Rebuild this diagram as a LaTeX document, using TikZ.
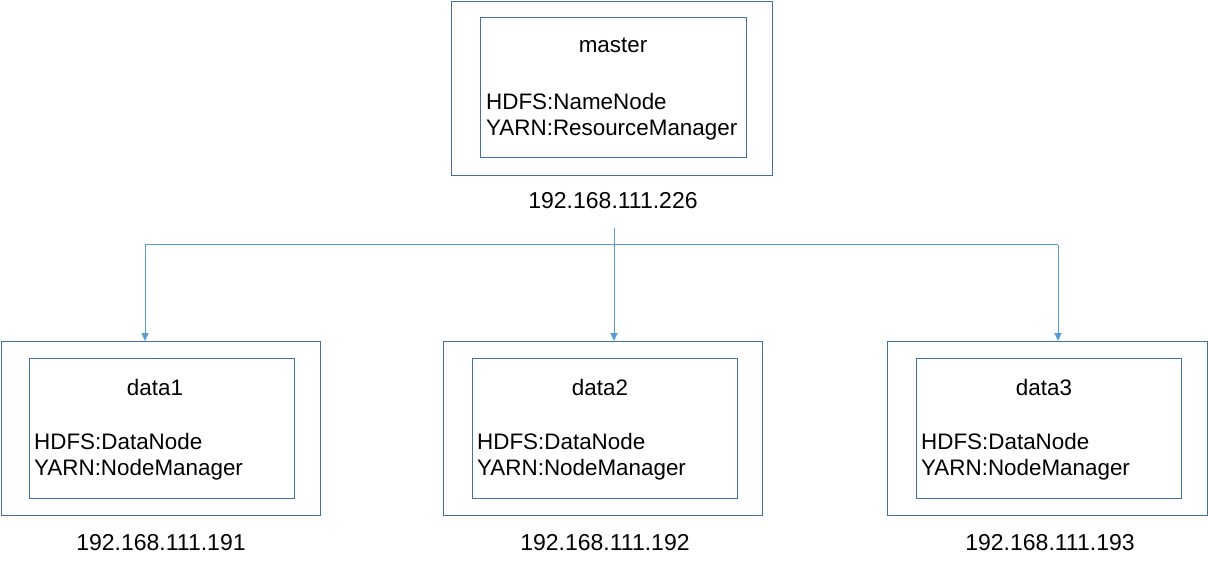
\documentclass[tikz,border=0pt]{standalone}
\usepackage{fontspec}
\setmainfont{Liberation Sans}
\usetikzlibrary{arrows.meta}
\definecolor{boxc}{RGB}{65,113,156}
\definecolor{linec}{RGB}{91,155,213}
\begin{document}
\begin{tikzpicture}[x=1pt,y=-1pt,
  outerbox/.style={draw=boxc,line width=1.2pt,anchor=north west,inner sep=0pt},
  innerbox/.style={draw=boxc,line width=1pt,anchor=north west,inner sep=0pt},
  txt/.style={inner sep=0pt,font=\fontsize{22.4}{26}\selectfont},
  iptxt/.style={inner sep=0pt,font=\fontsize{23}{27}\selectfont},
  ltxt/.style={txt,anchor=west},
  conn/.style={draw=linec,line width=1pt,-{Triangle[length=8pt,width=7pt]}},
  plain/.style={draw=linec,line width=1pt}]
\useasboundingbox (0,0) rectangle (1208,572);
% master
\node[outerbox,minimum width=321pt,minimum height=174pt] (mout) at (451,0.6) {};
\node[innerbox,minimum width=266pt,minimum height=140pt] (min) at (480,17) {};
\node[txt] (mt) at (613,45) {master};
\node[ltxt] (m1) at (486,101) {HDFS:NameNode};
\node[ltxt] (m2) at (486,130) {YARN:ResourceManager};
\node[iptxt] (mip) at (613,201) {192.168.111.226};
% data boxes
\node[outerbox,minimum width=319pt,minimum height=174pt] (d1out) at (0.6,341) {};
\node[innerbox,minimum width=265pt,minimum height=140pt] (d1in) at (29,358) {};
\node[txt] (d1t) at (155,387) {data1};
\node[ltxt] (d1a) at (34,441) {HDFS:DataNode};
\node[ltxt] (d1b) at (34,470) {YARN:NodeManager};
\node[iptxt] (d1ip) at (161,543) {192.168.111.191};
\node[outerbox,minimum width=319pt,minimum height=174pt] (d2out) at (443,341) {};
\node[innerbox,minimum width=265pt,minimum height=140pt] (d2in) at (472,358) {};
\node[txt] (d2t) at (600,387) {data2};
\node[ltxt] (d2a) at (477,441) {HDFS:DataNode};
\node[ltxt] (d2b) at (477,470) {YARN:NodeManager};
\node[iptxt] (d2ip) at (605,543) {192.168.111.192};
\node[outerbox,minimum width=320pt,minimum height=174pt] (d3out) at (887,341) {};
\node[innerbox,minimum width=265pt,minimum height=140pt] (d3in) at (916,358) {};
\node[txt] (d3t) at (1044,387) {data3};
\node[ltxt] (d3a) at (921,441) {HDFS:DataNode};
\node[ltxt] (d3b) at (921,470) {YARN:NodeManager};
\node[iptxt] (d3ip) at (1050,543) {192.168.111.193};
% connectors
\coordinate (hub) at (614,228);
\coordinate (b1) at (145,245);
\coordinate (b2) at (614,245);
\coordinate (b3) at (1058,245);
\draw[plain] (b1) -- (b3);
\draw[conn] (hub) -- (hub |- d2out.north);
\draw[conn] (b1) -- (b1 |- d1out.north);
\draw[conn] (b3) -- (b3 |- d3out.north);
\end{tikzpicture}
\end{document}
